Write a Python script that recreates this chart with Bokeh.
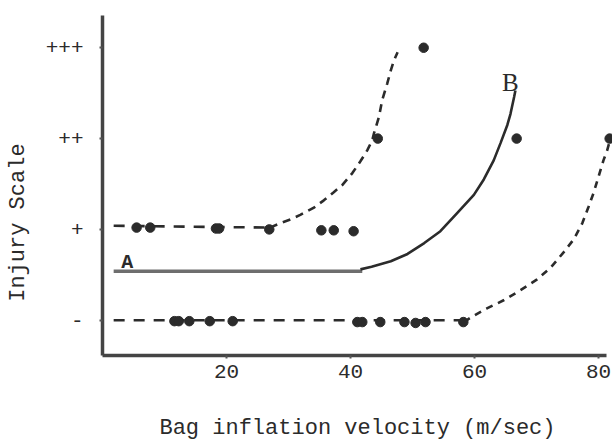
from bokeh.plotting import figure
from bokeh.models import FixedTicker, Range1d, Label
from bokeh.embed import file_html
from bokeh.resources import INLINE

# ---- data ----
# observed injury points: x = bag inflation velocity (m/sec), y = injury scale level
minus_x = [11.6, 12.3, 14.0, 17.3, 21.0, 41.1, 41.9, 44.8, 48.7, 50.5, 52.1, 58.2]
minus_y = [-0.01, -0.01, -0.01, -0.01, -0.01, -0.02, -0.02, -0.02, -0.02, -0.03, -0.02, -0.02]
plus_x = [5.5, 7.7, 18.3, 18.8, 26.9, 35.3, 37.3, 40.5]
plus_y = [1.02, 1.02, 1.01, 1.01, 1.0, 0.99, 0.99, 0.98]
plusplus_x = [44.4, 66.8, 81.8]
plusplus_y = [2.0, 2.0, 2.0]
plus3_x = [51.8]
plus3_y = [3.0]

# fitted curves
low_flat_x = [1.8, 58.2]
low_flat_y = [0.0, 0.0]
low_curve_x = [58.3, 59.4, 62.0, 64.7, 67.4, 70.1, 72.3, 74.4, 76.0, 77.4, 78.4, 79.2, 80.0, 80.8, 81.4, 81.8]
low_curve_y = [-0.02, 0.03, 0.13, 0.22, 0.33, 0.45, 0.58, 0.75, 0.89, 1.07, 1.25, 1.40, 1.58, 1.76, 1.87, 1.97]
up_flat_x = [1.8, 27.0]
up_flat_y = [1.04, 1.02]
up_curve_x = [27.0, 28.7, 30.3, 31.9, 34.1, 35.7, 37.3, 38.7, 40.3, 41.6, 42.7, 43.5, 43.8, 44.6, 45.1, 45.9, 46.5, 47.0, 47.6]
up_curve_y = [1.02, 1.07, 1.11, 1.16, 1.24, 1.32, 1.41, 1.49, 1.62, 1.75, 1.87, 1.98, 2.06, 2.24, 2.42, 2.60, 2.75, 2.86, 2.95]
a_line_x = [1.8, 41.9]
a_line_y = [0.54, 0.54]
b_curve_x = [41.6, 43.4, 46.5, 49.2, 51.9, 54.5, 57.2, 59.9, 61.5, 63.1, 64.2, 65.3, 65.8, 66.4, 66.6]
b_curve_y = [0.56, 0.59, 0.65, 0.73, 0.85, 0.98, 1.18, 1.38, 1.55, 1.76, 1.95, 2.15, 2.27, 2.46, 2.53]

x_ticks = [20, 40, 60, 80]
y_ticks = [0, 1, 2, 3]
y_tick_labels = ["-", "+", "++", "+++"]
x_title = "Bag inflation velocity (m/sec)"
y_title = "Injury Scale"

FONT = "Liberation Mono"
INK = "#2b2b2b"

p = figure(width=612, height=443, output_backend="svg", toolbar_location=None,
           x_range=Range1d(0, 82.26), y_range=Range1d(-0.388, 3.41),
           min_border_left=102, min_border_right=0, min_border_top=10,
           min_border_bottom=86)
p.outline_line_color = None
p.xgrid.visible = False
p.ygrid.visible = False
p.background_fill_color = "white"
p.border_fill_color = "white"

# fitted lines
p.line(low_flat_x, low_flat_y, line_color=INK, line_width=2.6, line_dash="11 9")
p.line(low_curve_x, low_curve_y, line_color=INK, line_width=2.6, line_dash="7 6")
p.line(up_flat_x, up_flat_y, line_color=INK, line_width=2.6, line_dash="11 9")
p.line(up_curve_x, up_curve_y, line_color=INK, line_width=2.6, line_dash="8 6")
p.line(a_line_x, a_line_y, line_color="#6e6e6e", line_width=3.5)
p.line(b_curve_x, b_curve_y, line_color=INK, line_width=2.6)

# data points
for xs, ys in [(minus_x, minus_y), (plus_x, plus_y), (plusplus_x, plusplus_y), (plus3_x, plus3_y)]:
    p.scatter(xs, ys, size=9.5, fill_color=INK, line_color=INK)

p.add_layout(Label(x=4.0, y=0.505, text="A", text_font=FONT, text_font_size="20px",
                   text_font_style="bold", text_color=INK, text_align="center",
                   text_baseline="bottom"))
p.add_layout(Label(x=65.8, y=2.62, text="B", text_font="Liberation Serif",
                   text_font_size="25px", text_color=INK, text_align="center",
                   text_baseline="middle"))

# axes
for ax in (p.xaxis[0], p.yaxis[0]):
    ax.axis_line_color = "#444444"
    ax.axis_line_width = 3.5
    ax.major_tick_line_color = "#555555"
    ax.major_tick_line_width = 2
    ax.major_tick_in = 0
    ax.major_tick_out = 3
    ax.minor_tick_line_color = None
    ax.major_label_text_font = FONT
    ax.major_label_text_font_size = "21px"
    ax.major_label_text_color = INK
    ax.axis_label_text_font = FONT
    ax.axis_label_text_font_size = "22px"
    ax.axis_label_text_font_style = "normal"
    ax.axis_label_text_color = INK

p.xaxis.ticker = FixedTicker(ticks=x_ticks)
p.xaxis.bounds = (0, 81.3)
p.xaxis.major_label_standoff = 6
p.xaxis.axis_label = x_title
p.xaxis.axis_label_standoff = 35

p.yaxis.ticker = FixedTicker(ticks=y_ticks)
p.yaxis.major_label_overrides = {t: s for t, s in zip(y_ticks, y_tick_labels)}
p.yaxis.bounds = (-0.388, 3.35)
p.yaxis.major_label_standoff = 16
# trailing no-break spaces shift the rotated title down, to where the reference has it
p.yaxis.axis_label = y_title + "\u00a0" * 6
p.yaxis.axis_label_standoff = 12

open("out.html", "w").write(file_html(p, INLINE))
